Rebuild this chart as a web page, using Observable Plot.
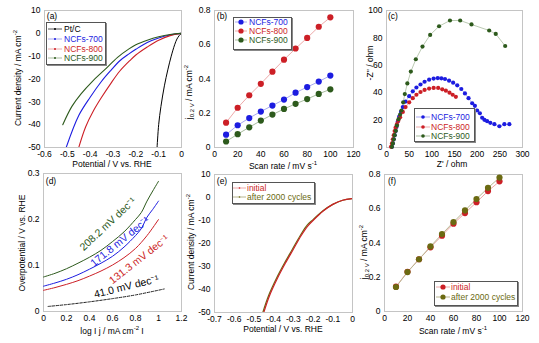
<!DOCTYPE html>
<html><head><meta charset="utf-8">
<script src="https://cdn.jsdelivr.net/npm/d3@7"></script>
<script src="https://cdn.jsdelivr.net/npm/@observablehq/plot@0.6"></script>
<style>
body{margin:0;background:#fff;}
#c{position:relative;width:539px;height:343px;overflow:hidden;font-family:'Liberation Sans',Arial,sans-serif;font-size:8.5px;color:#000;}
#c svg{position:absolute;}
.t{position:absolute;white-space:nowrap;transform:translate(-50%,-50%);line-height:1;}
.ty{position:absolute;white-space:nowrap;transform:translate(-50%,-50%) rotate(-90deg);line-height:1;}
.lg{position:absolute;border:1px solid #555;box-shadow:1px 1px 0 #888;background:#fff;}
.lt{position:absolute;white-space:nowrap;line-height:1;transform:translateY(-50%);}
sup,sub{font-size:6px;line-height:0;}
</style></head>
<body><div id="c"></div>
<script>
// ---------- data ----------
// (a) LSV curves: [potential V, current density mA cm-2]
const ptC   = [[0,0],[-0.01,-1],[-0.02,-2.5],[-0.03,-5],[-0.045,-10],[-0.06,-16],[-0.075,-23],[-0.09,-32],[-0.1,-40],[-0.107,-50]];
const ncf700 = [[0,0],[-0.05,-0.7],[-0.1,-2],[-0.15,-4],[-0.2,-7],[-0.23,-9],[-0.27,-12],[-0.31,-16.3],[-0.35,-21],[-0.4,-28],[-0.45,-36],[-0.505,-50]];
const ncf800 = [[0,0],[-0.05,-1],[-0.1,-3],[-0.15,-6],[-0.2,-9.5],[-0.225,-11.8],[-0.27,-16.5],[-0.31,-22],[-0.35,-28],[-0.385,-33.8],[-0.42,-41],[-0.45,-50]];
const ncf900 = [[0,0],[-0.05,-0.5],[-0.1,-1.5],[-0.15,-3],[-0.2,-5],[-0.23,-6.8],[-0.28,-10.5],[-0.337,-16],[-0.39,-21],[-0.44,-26.5],[-0.48,-32],[-0.52,-40]];
// (b) capacitive current vs scan rate
const scanRates = [10,20,30,40,50,60,70,80,90,100];
const j700 = [0.075,0.13,0.172,0.21,0.245,0.28,0.32,0.353,0.385,0.42];
const j800 = [0.145,0.232,0.305,0.372,0.443,0.513,0.578,0.64,0.705,0.76];
const j900 = [0.035,0.078,0.118,0.157,0.192,0.225,0.255,0.283,0.313,0.34];
// (c) Nyquist: [Z', -Z'']
const eis700 = [[12,0.5],[14,3],[16,6],[18,9],[20,12],[22,15],[25,19],[28,22.5],[32,26],[36,29.5],[42,33.5],[50,37.5],[58,41],[66,43.8],[75,46],[84,48],[94,49.5],[104,50.3],[113,50.7],[121,50.5],[129,50],[138,48.8],[147,47.3],[156,45.4],[165,42.7],[173,39.5],[181,36],[189,32.3],[195,30.4],[200,27],[206,25],[211,21.7],[216,20.2],[222,19.2],[229,18],[238,17],[249,15.5],[260,17],[271,17]];
const eis800 = [[10,0.5],[12,3],[14,6],[16,9],[18,12],[20,14.5],[23,17],[26,19.5],[30,22],[36,26],[42,29.5],[50,33],[58,36],[66,38.5],[75,40.5],[84,42],[94,43],[104,43.5],[114,43.5],[123,42.5],[131,41.5],[139,40],[146,38.5],[153,37]];
const eis900 = [[12,0.5],[14,3],[16,6],[18,9],[20.6,12.2],[23,16],[26.5,20.7],[30,24],[33,27],[36.8,33],[40.4,39],[46,46.8],[53.7,55.4],[64.7,64.4],[79.4,73.7],[96.3,82.2],[116,88.5],[140,92.7],[162.5,92.7],[187.5,89.8],[226.5,85.4],[241,82.9],[261.8,74.1]];
// (d) Tafel: [log|j|, overpotential V]
const taf700 = [[0,0.055],[0.1,0.062],[0.2,0.07],[0.3,0.08],[0.4,0.092],[0.5,0.105],[0.6,0.12],[0.7,0.14],[0.8,0.165],[0.85,0.18],[0.9,0.205],[0.95,0.222],[1.0,0.24]];
const taf800 = [[0,0.046],[0.1,0.052],[0.2,0.059],[0.3,0.067],[0.4,0.077],[0.5,0.088],[0.6,0.101],[0.7,0.117],[0.8,0.137],[0.9,0.165],[1.0,0.2]];
const taf900 = [[0,0.075],[0.1,0.083],[0.2,0.093],[0.3,0.105],[0.4,0.118],[0.5,0.133],[0.6,0.152],[0.7,0.173],[0.8,0.2],[0.85,0.215],[0.9,0.24],[0.95,0.262],[1.0,0.283]];
const tafPt  = [[0.04,0.011],[0.2,0.015],[0.4,0.021],[0.6,0.028],[0.8,0.036],[1.05,0.049]];
const tafelLabels = ["208.2 mV dec⁻¹","171.8 mV dec⁻¹","131.3 mV dec⁻¹","41.0 mV dec⁻¹"];
const tafelLabelX = [0.56,0.665,0.83,0.72];
const tafelLabelY = [0.19,0.152,0.113,0.054];
// (e) stability LSV
const lsvInitial = [[0,-0.5],[-0.05,-1.2],[-0.1,-3],[-0.15,-6],[-0.2,-10],[-0.225,-12.2],[-0.26,-16.5],[-0.3,-22.5],[-0.34,-28.5],[-0.38,-35],[-0.42,-42.5],[-0.45,-50]];
const lsvAfter   = [[0,-0.5],[-0.05,-1.2],[-0.1,-3],[-0.15,-5.8],[-0.2,-9.6],[-0.23,-12],[-0.265,-16.5],[-0.305,-22.5],[-0.345,-28.5],[-0.385,-35],[-0.425,-42.5],[-0.455,-50]];
// (f) capacitance stability
const jInitial = [0.145,0.232,0.305,0.375,0.443,0.513,0.575,0.638,0.703,0.76];
const jAfter   = [0.143,0.23,0.305,0.38,0.452,0.522,0.59,0.657,0.722,0.782];
// ticks
const potTicksA = [-0.6,-0.5,-0.4,-0.3,-0.2,-0.1,0];
const potTicksE = [-0.7,-0.6,-0.5,-0.4,-0.3,-0.2,-0.1,0];
const curTicks = [10,0,-10,-20,-30,-40,-50];
const scanTicks = [0,20,40,60,80,100,120];
const jTicks = [0,0.2,0.4,0.6,0.8];
const zReTicks = [0,50,100,150,200,250,300];
const zImTicks = [0,20,40,60,80,100];
const logTicks = [0,0.2,0.4,0.6,0.8,1,1.2];
const etaTicks = [0,0.1,0.2,0.3];

// ---------- styles ----------
const C = {pt:"#000", b:"#1c1ce0", r:"#cc1f26", g:"#2d5a1c", o:"#6b6a12",
           bl:"#a9a9f0", rl:"#eeaaaa", gl:"#a9bda0", ol:"#b8b690"};
const root = document.getElementById("c");
const fmt = d => String(d);
const pts = arr => arr.map(([x,y]) => ({x,y}));
const sr = vals => vals.map((y,i) => ({x:scanRates[i], y}));

function panel(L,T,R,B,xd,xt,yd,yt,marks){
  const ml=40, mt=8, mr=6, mb=18;
  const svg = Plot.plot({
    width:(R-L)+ml+mr, height:(B-T)+mt+mb,
    marginLeft:ml, marginTop:mt, marginRight:mr, marginBottom:mb,
    x:{domain:xd}, y:{domain:yd},
    style:{fontFamily:"'Liberation Sans',Arial,sans-serif", fontSize:"8.5px", background:"transparent", color:"#000", overflow:"visible"},
    marks:[
      Plot.frame({stroke:"#c4c4c4"}),
      Plot.axisX(xt,{tickSize:0, tickPadding:3, tickFormat:fmt, label:null}),
      Plot.axisY(yt,{tickSize:0, tickPadding:4, tickFormat:fmt, label:null}),
      ...marks
    ]
  });
  svg.style.left=(L-ml)+"px"; svg.style.top=(T-mt)+"px";
  root.appendChild(svg);
}
function html(s){ root.insertAdjacentHTML("beforeend", s); }
function xt(x,y,s){ html(`<div class="t" style="left:${x}px;top:${y}px">${s}</div>`); }
function yl(x,y,s){ html(`<div class="ty" style="left:${x}px;top:${y}px">${s}</div>`); }
function legend(box, sx, sw, tx, rows, r){
  html(`<div class="lg" style="left:${box[0]}px;top:${box[1]}px;width:${box[2]}px;height:${box[3]}px"></div>`);
  rows.forEach(([y,label,col,lc])=>{
    html(`<svg style="left:${sx}px;top:${y-4}px" width="${sw}" height="8"><line x1="0" x2="${sw}" y1="4" y2="4" stroke="${lc}" stroke-width="1"/><circle cx="${sw/2}" cy="4" r="${r}" fill="${col}"/></svg>`);
    html(`<div class="lt" style="left:${tx}px;top:${y}px;color:${col}">${label}</div>`);
  });
}

// (a)
panel(44,10,181,147,[-0.6,0],potTicksA,[-50,10],curTicks,[
  Plot.line(pts(ptC),{x:"x",y:"y",stroke:C.pt,strokeWidth:1,curve:"catmull-rom",clip:true}),
  Plot.line(pts(ncf700),{x:"x",y:"y",stroke:C.b,strokeWidth:1.1,curve:"catmull-rom",clip:true}),
  Plot.line(pts(ncf800),{x:"x",y:"y",stroke:C.r,strokeWidth:1.1,curve:"catmull-rom",clip:true}),
  Plot.line(pts(ncf900),{x:"x",y:"y",stroke:C.g,strokeWidth:1.1,curve:"catmull-rom",clip:true})
]);
// (b)
panel(214,10,353,147,[0,120],scanTicks,[0,0.8],jTicks,[
  Plot.line(sr(j700),{x:"x",y:"y",stroke:C.bl,strokeWidth:1}),
  Plot.line(sr(j800),{x:"x",y:"y",stroke:C.rl,strokeWidth:1}),
  Plot.line(sr(j900),{x:"x",y:"y",stroke:C.gl,strokeWidth:1}),
  Plot.dot(sr(j700),{x:"x",y:"y",r:3.1,fill:C.b}),
  Plot.dot(sr(j800),{x:"x",y:"y",r:3.1,fill:C.r}),
  Plot.dot(sr(j900),{x:"x",y:"y",r:3.1,fill:C.g})
]);
// (c)
panel(386,10,522,147,[0,300],zReTicks,[0,100],zImTicks,[
  Plot.line(pts(eis700),{x:"x",y:"y",stroke:C.bl,strokeWidth:0.8}),
  Plot.line(pts(eis800),{x:"x",y:"y",stroke:C.rl,strokeWidth:0.8}),
  Plot.line(pts(eis900),{x:"x",y:"y",stroke:C.gl,strokeWidth:0.8}),
  Plot.dot(pts(eis700),{x:"x",y:"y",r:2.1,fill:C.b}),
  Plot.dot(pts(eis800),{x:"x",y:"y",r:2.1,fill:C.r}),
  Plot.dot(pts(eis900),{x:"x",y:"y",r:2.1,fill:C.g})
]);
// (d)
const annColors = [C.g,C.b,C.r,C.pt];
const annAngles = [-43,-39,-38,-14];
panel(43,173,181,311,[0,1.2],logTicks,[0,0.3],etaTicks,[
  Plot.line(pts(taf900),{x:"x",y:"y",stroke:C.g,strokeWidth:1,curve:"catmull-rom"}),
  Plot.line(pts(taf700),{x:"x",y:"y",stroke:C.b,strokeWidth:1,curve:"catmull-rom"}),
  Plot.line(pts(taf800),{x:"x",y:"y",stroke:C.r,strokeWidth:1,curve:"catmull-rom"}),
  Plot.line(pts(tafPt),{x:"x",y:"y",stroke:"#222",strokeWidth:1,strokeDasharray:"2.5,1.5",curve:"catmull-rom"}),
  ...tafelLabels.map((t,i)=>Plot.text([t],{x:()=>tafelLabelX[i],y:()=>tafelLabelY[i],text:d=>d,rotate:annAngles[i],fill:annColors[i],fontSize:10.5}))
]);
// (e)
panel(214,174,352,312,[-0.7,0],potTicksE,[-50,10],curTicks,[
  Plot.line(pts(lsvAfter),{x:"x",y:"y",stroke:C.o,strokeWidth:1.2,curve:"catmull-rom",clip:true}),
  Plot.line(pts(lsvInitial),{x:"x",y:"y",stroke:C.r,strokeWidth:1.2,curve:"catmull-rom",clip:true})
]);
// (f)
panel(384,174,522,311,[0,120],scanTicks,[0,0.8],jTicks,[
  Plot.line(sr(jInitial),{x:"x",y:"y",stroke:C.rl,strokeWidth:1}),
  Plot.line(sr(jAfter),{x:"x",y:"y",stroke:C.ol,strokeWidth:1}),
  Plot.dot(sr(jInitial),{x:"x",y:"y",r:3.1,fill:C.r}),
  Plot.dot(sr(jAfter),{x:"x",y:"y",r:3.1,fill:C.o})
]);

// panel letters
xt(52,16,"(a)"); xt(222,16,"(b)"); xt(393,16,"(c)");
xt(51,181,"(d)"); xt(222,181,"(e)"); xt(392,181,"(f)");

// axis titles
xt(112,164,"Potential / V vs. RHE");
yl(18,78,"Current density / mA cm<sup>-2</sup>");
xt(283,166,"Scan rate / mV s<sup>-1</sup>");
yl(189,92,"j<sub>0.2 V</sub> / mA cm<sup>-2</sup>");
xt(452,164,"Z' / ohm");
yl(370,63,"-Z'' / ohm");
xt(112,331,"log I j / mA cm<sup>-2</sup> I");
yl(22,243,"Overpotential / V vs. RHE");
xt(283,329,"Potential / V vs. RHE");
yl(191,242,"Current density / mA cm<sup>-2</sup>");
xt(453,331,"Scan rate / mV s<sup>-1</sup>");
yl(364,252,"j<sub>0.2 V</sub> / mA cm<sup>-2</sup>");

// legends
legend([46,22,58,41],48,14,64,[[29,"Pt/C",C.pt,"#555"],[39,"NCFs-700",C.b,C.bl],[49,"NCFs-800",C.r,C.rl],[58,"NCFs-900",C.g,C.gl]],1);
legend([233,17,57,31],235,12,249,[[22,"NCFs-700",C.b,C.bl],[31,"NCFs-800",C.r,C.rl],[40,"NCFs-900",C.g,C.gl]],2.6);
legend([414,108,59,32],416,14,431,[[117,"NCFs-700",C.b,C.bl],[127,"NCFs-800",C.r,C.rl],[136,"NCFs-900",C.g,C.gl]],1.8);
legend([232,182,81,20],233,13,247,[[188,"initial",C.r,C.rl],[197,"after 2000 cycles",C.o,C.ol]],0.8);
legend([434,281,82,23],436,14,451,[[287,"initial",C.r,C.rl],[297,"after 2000 cycles",C.o,C.ol]],2.6);
</script></body></html>
